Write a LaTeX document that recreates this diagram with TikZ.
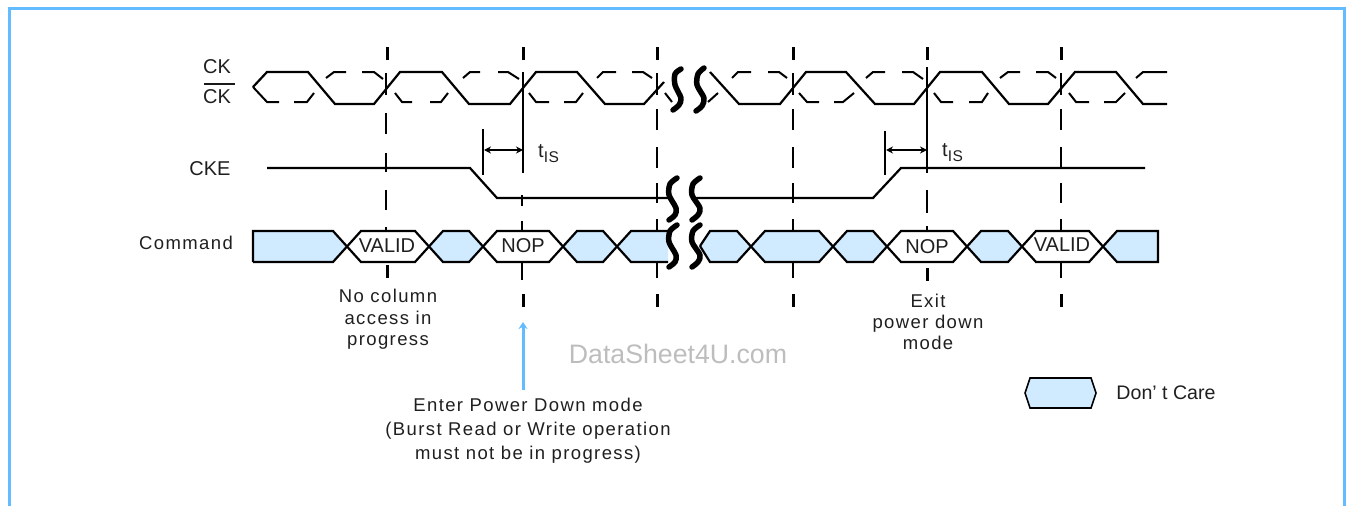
\documentclass[tikz,border=0pt]{standalone}
\usepackage{fontspec}
\setmainfont{Liberation Sans}
\newfontfamily\spacedfont[LetterSpace=7.5]{Liberation Sans}
\usetikzlibrary{arrows.meta}
\definecolor{frameblue}{HTML}{63BCFF}
\definecolor{dcblue}{HTML}{D0EBFF}
\newcommand{\tisub}{t\raisebox{-5pt}{\fontsize{15.5pt}{18pt}\selectfont\addfontfeature{LetterSpace=4}IS}}
\tikzset{
  wave/.style={line width=2.2pt,line join=miter},
  dc/.style={fill=dcblue,draw=none},
  clear/.style={fill=white,draw=none},
  thinwave/.style={line width=2pt},
  thintick/.style={line width=1.3pt},
  thicktick/.style={line width=3pt},
  bar/.style={line width=2.8pt},
  dim/.style={line width=1.8pt,{Stealth[length=7pt,width=7pt]}-{Stealth[length=7pt,width=7pt]}},
  lbl/.style={font=\fontsize{20pt}{24pt}\selectfont,text=black!88,inner sep=0pt},
  para/.style={font=\spacedfont\fontsize{18.5pt}{21.5pt}\selectfont,text=black!88,inner sep=0pt,align=center},
  brk/.style={line width=5.5pt,line cap=round,line join=round},
}
\begin{document}
\begin{tikzpicture}[x=1pt,y=-1pt]
\useasboundingbox (0,0) rectangle (1346,506);
\coordinate (fa) at (9.5,506); \coordinate (fb) at (9.5,8.5); \coordinate (fc) at (1344.8,8.5); \coordinate (fd) at (1344.8,506);
\draw[frameblue,line width=3pt] (fa) -- (fb) -- (fc) -- (fd);
% guide dashes: thick top piece
\foreach \x in {387,523,657.5,793.5,927.5,1061.5}{
  \draw[thicktick] (\x,47) -- (\x,60);
}
% thin dashes
\draw[thintick] (386,73)--(386,95) (386,113)--(386,134) (386,153)--(386,172) (386,190)--(386,210) (386,227)--(386,235);
\draw[thintick] (522,195)--(522,206) (522,221)--(522,235) (522,258)--(522,280);
\foreach \x in {657,793,1061}{
  \draw[thintick] (\x,73)--(\x,95) (\x,109)--(\x,130) (\x,147)--(\x,168) (\x,183)--(\x,203) (\x,219)--(\x,235) (\x,258)--(\x,278);
}
\draw[thintick] (927,162)--(927,173) (927,190)--(927,213) (927,226)--(927,235);
% thick bottom pieces
\draw[thicktick] (387,265)--(387,278) (927.5,268)--(927.5,281);
\foreach \x in {523.5,657.5,793.5,1061.5}{
  \draw[thicktick] (\x,294)--(\x,307);
}
% CK dashed
\draw[thinwave] (253,87)--(267,102)--(279,102) (294,102)--(307,102)--(314,93)
 (326,78)--(334,72)--(346,72) (362,72)--(374,72)--(383,79)
 (395,93)--(402,102)--(412,102) (430,102)--(441,102)--(448,93)
 (463,78)--(470,72)--(480,72) (498,72)--(508,72)--(519,79)
 (529,93)--(536,102)--(549,102) (564,102)--(576,102)--(583,93)
 (597,78)--(603,72)--(616,72) (632,72)--(643,72)--(652,78)
 (665,93)--(672,102) (708,102)--(718,93)
 (732,78)--(738,72)--(751,72) (768,72)--(779,72)--(787,78)
 (799,93)--(807,102)--(819,102) (834,102)--(843,102)--(854,93)
 (866,78)--(873,72)--(885,72) (902,72)--(913,72)--(923,79)
 (934,93)--(941,102)--(953,102) (969,102)--(982,102)--(988,93)
 (1000,78)--(1008,72)--(1020,72) (1036,72)--(1048,72)--(1056,78)
 (1069,93)--(1076,102)--(1089,102) (1104,102)--(1116,102)--(1125,93)
 (1136,78)--(1143,72)--(1167,72);
% CK solid
\draw[wave] (253,87)--(267,72)--(308,72)--(335,104)--(374,104)--(400,72)--(442,72)--(469,104)--(510,104)--(536,72)--(577,72)--(605,104)--(644,104)--(664,82);
\draw[wave] (710,72)--(739,104)--(780,104)--(806,72)--(846,72)--(875,104)--(914,104)--(940,72)--(982,72)--(1009,104)--(1048,104)--(1075,72)--(1116,72)--(1143,104)--(1167,104);
% CKE
\draw[wave] (267,168)--(470,168)--(497,198)--(668,198);
\draw[wave] (694,198)--(873,198)--(901,168)--(1145,168);
% Command fills
\fill[dc] (253,231)--(333,231)--(347,246)--(333,262)--(253,262)--cycle;
\fill[clear] (347,246)--(361,231)--(415,231)--(429,246)--(415,262)--(361,262)--cycle;
\fill[dc] (429,246)--(443,231)--(469,231)--(483,246)--(469,262)--(443,262)--cycle;
\fill[clear] (483,246)--(497,231)--(549,231)--(563,246)--(549,262)--(497,262)--cycle;
\fill[dc] (563,246)--(577,231)--(603,231)--(617,246)--(603,262)--(577,262)--cycle;
\fill[dc] (617,246)--(631,231)--(668,231)--(668,262)--(631,262)--cycle;
\fill[dc] (700,246)--(710,231)--(737,231)--(751,246)--(737,262)--(710,262)--cycle;
\fill[dc] (751,246)--(765,231)--(819,231)--(833,246)--(819,262)--(765,262)--cycle;
\fill[dc] (833,246)--(847,231)--(873,231)--(887,246)--(873,262)--(847,262)--cycle;
\fill[clear] (887,246)--(901,231)--(953,231)--(967,246)--(953,262)--(901,262)--cycle;
\fill[dc] (967,246)--(981,231)--(1008,231)--(1022,246)--(1008,262)--(981,262)--cycle;
\fill[clear] (1022,246)--(1036,231)--(1089,231)--(1103,246)--(1089,262)--(1036,262)--cycle;
\fill[dc] (1103,246)--(1117,231)--(1158,231)--(1158,262)--(1117,262)--cycle;
% Command outline
\draw[wave] (253,262)--(253,231)--(333,231)--(361,262)--(415,262)--(443,231)--(469,231)--(497,262)--(549,262)--(577,231)--(603,231)--(631,262)--(668,262);
\draw[wave] (253,262)--(333,262)--(361,231)--(415,231)--(443,262)--(469,262)--(497,231)--(549,231)--(577,262)--(603,262)--(631,231)--(668,231);
\draw[wave] (700,246)--(710,231)--(737,231)--(765,262)--(819,262)--(847,231)--(873,231)--(901,262)--(953,262)--(981,231)--(1008,231)--(1036,262)--(1089,262)--(1117,231)--(1158,231)--(1158,262)--(1117,262)--(1089,231)--(1036,231)--(1008,262)--(981,262)--(953,231)--(901,231)--(873,262)--(847,262)--(819,231)--(765,231)--(737,262)--(710,262)--(700,246);
% breaks
\foreach \yy in {0,47}{
  \draw[brk] plot[smooth] coordinates {(677,178+\yy) (670,184+\yy) (669,195+\yy) (676,208+\yy) (675,215+\yy) (669,220+\yy)};
  \draw[brk] plot[smooth] coordinates {(700,178+\yy) (693,184+\yy) (692,195+\yy) (700,208+\yy) (698,215+\yy) (692,220+\yy)};
}
\draw[brk] plot[smooth] coordinates {(681,69) (675,74) (675,85) (681,98) (679,105) (673,110)};
\draw[brk] plot[smooth] coordinates {(704,68) (698,74) (697,85) (704,98) (702,106) (696,111)};
% timing marks
\coordinate (tl1) at (484,150); \coordinate (tr1) at (523,150);
\coordinate (tl2) at (886,150); \coordinate (tr2) at (927,150);
\draw[bar] (483,129)--(483,175);
\draw[bar] (523,72)--(523,173);
\draw[bar] (885,131)--(885,175);
\draw[bar] (927,67)--(927,162);
\draw[dim] (tl1) -- (tr1);
\draw[dim] (tl2) -- (tr2);
% labels
\node[lbl] (ck) at (217,67) {CK};
\node[lbl] (ckb) at (217,97) {CK};
\coordinate (ba) at (204,84); \coordinate (bb) at (235,84);
\draw[line width=2.4pt,black!90] (ba)--(bb);
\node[lbl] (cke) at (210,169) {CKE};
\node[para] (cmd) at (186,243) {Command};
\node[lbl] (valid1) at (387,246) {VALID};
\node[lbl] (nop1) at (523,246) {NOP};
\node[lbl] (nop2) at (927,247) {NOP};
\node[lbl] (valid2) at (1062,245) {VALID};
\node[lbl,anchor=base west] (tis1) at (538,157) {\tisub};
\node[lbl,anchor=base west] (tis2) at (942,156) {\tisub};
\node[para] (nca) at (388,319.5) {No column\\access in\\progress};
\node[para,font=\spacedfont\fontsize{18.5pt}{21pt}\selectfont] (epd) at (928,322) {Exit\\power down\\mode};
\node[para,font=\spacedfont\fontsize{18.5pt}{24pt}\selectfont] (enter) at (528,431) {Enter Power Down mode\\(Burst Read or Write operation\\must not be in progress)};
\node[lbl,font=\fontsize{26.7pt}{30pt}\selectfont,text=black!26] (ds) at (678,354) {DataSheet4U.com};
\node[lbl,font=\fontsize{19.6pt}{24pt}\selectfont] (dc) at (1166,393) {Don’ t Care};
\coordinate (arrtip) at (523,322); \coordinate (arrbase) at (523,390);
\draw[frameblue,line width=3pt,-{Stealth[length=7pt,width=9pt]}] (arrbase) -- (arrtip);
\fill[dcblue] (1025,393)--(1030,378)--(1091,378)--(1096,393)--(1091,408)--(1030,408)--cycle;
\draw[line width=1.6pt] (1025,393)--(1030,378)--(1091,378)--(1096,393)--(1091,408)--(1030,408)--cycle;
\end{tikzpicture}
\end{document}
